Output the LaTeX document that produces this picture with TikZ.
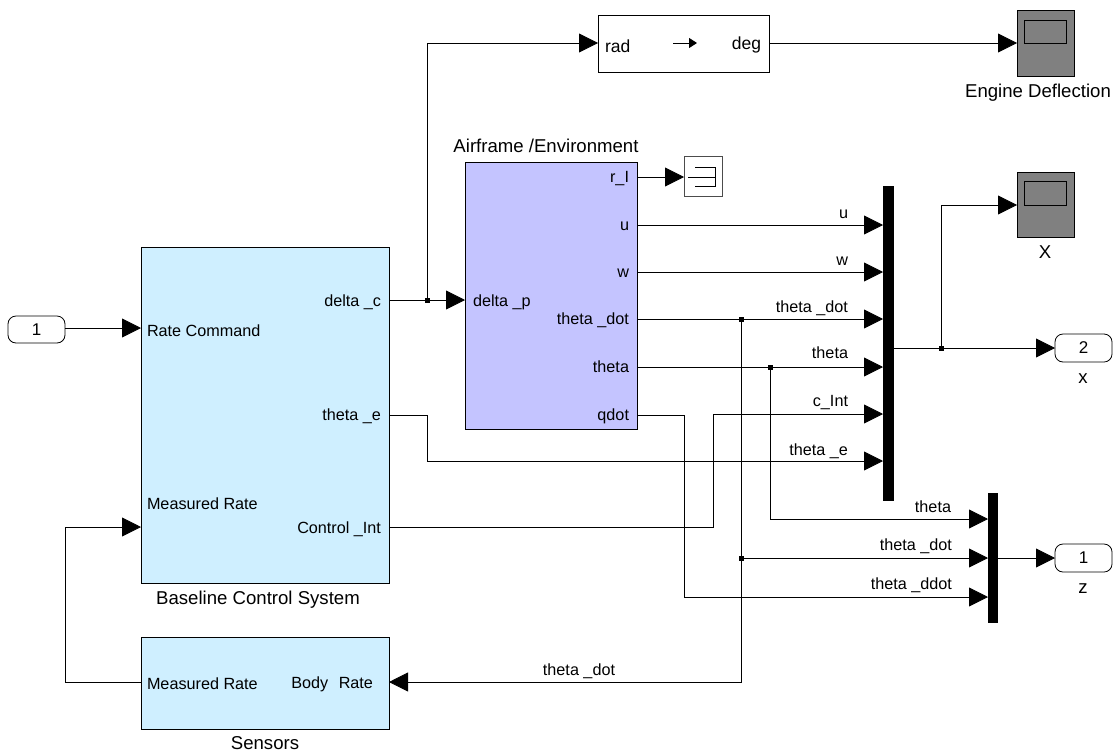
\documentclass[tikz,border=0pt]{standalone}
\usepackage{fontspec}
\setmainfont{Liberation Sans}
\usetikzlibrary{arrows.meta}
\definecolor{skyblk}{HTML}{CFEFFF}
\definecolor{lavblk}{HTML}{C4C4FF}
\definecolor{scopegray}{HTML}{808080}
\tikzset{
  x=1pt,y=-1pt,
  blk/.style={draw=black,line width=0.8pt,inner sep=0pt,outer sep=0pt,anchor=north west},
  mux/.style={fill=black,inner sep=0pt,outer sep=0pt,anchor=north west},
  port/.style={draw=black,line width=0.8pt,rounded corners=8pt,inner sep=0pt,outer sep=0pt,anchor=north west,font=\fontsize{17}{17}\selectfont},
  sig/.style={draw=black,line width=0.8pt,-{Triangle[length=19pt,width=19pt]}},
  wire/.style={draw=black,line width=0.8pt},
  jct/.style={fill=black,inner sep=0pt,outer sep=0pt,minimum size=5pt},
  lab/.style={inner sep=0pt,outer sep=0pt,font=\fontsize{16.2}{16.2}\selectfont},
  labL/.style={lab,anchor=base west},
  labR/.style={lab,anchor=base east},
  labC/.style={lab,anchor=base},
  nameC/.style={inner sep=0pt,outer sep=0pt,anchor=base,font=\fontsize{18.6}{18.6}\selectfont},
}
\begin{document}
\begin{tikzpicture}
\useasboundingbox (0,0) rectangle (1115,753);
% blocks
\node[blk,fill=skyblk,minimum width=248pt,minimum height=336pt] (base) at (141,247) {};
\node[blk,fill=skyblk,minimum width=248pt,minimum height=92pt] (sens) at (141,637) {};
\node[blk,fill=lavblk,minimum width=172pt,minimum height=267pt] (air) at (465,162) {};
\node[blk,fill=white,minimum width=171pt,minimum height=57pt] (conv) at (598,15) {};
\node[blk,fill=scopegray,minimum width=57pt,minimum height=66pt] (scopeE) at (1017,10) {};
\node[blk,fill=scopegray,minimum width=42pt,minimum height=23pt] (scopeEin) at (1024,20) {};
\node[blk,fill=scopegray,minimum width=57pt,minimum height=65pt] (scopeX) at (1017,172) {};
\node[blk,fill=scopegray,minimum width=42pt,minimum height=24pt] (scopeXin) at (1024,181) {};
\node[blk,draw=black!70,fill=white,minimum width=38pt,minimum height=40pt] (term) at (684,156) {};
\node[mux,minimum width=11pt,minimum height=315pt] (muxA) at (883,186) {};
\node[mux,minimum width=10pt,minimum height=130pt] (muxB) at (988,493) {};
\node[port,minimum width=57pt,minimum height=27pt] (inA) at (8,316) {1};
\node[port,minimum width=57pt,minimum height=28pt] (outX) at (1055,334) {2};
\node[port,minimum width=57pt,minimum height=28pt] (outZ) at (1055,544) {1};
% terminator glyph
\draw[wire] (695,167) -- (715,167) -- (715,186) -- (695,186);
\draw[wire] (688,177) -- (715,177);
% converter glyph
\draw[line width=1pt,-{Triangle[length=8pt,width=10pt]}] (673,43) -- (697,43);
% junctions
\coordinate (jDelta) at (427,300);
\coordinate (jDot) at (741,319);
\coordinate (jDotB) at (741,558);
\coordinate (jTheta) at (770,367);
\coordinate (jMux) at (941,348);
% connectors
\draw[sig] (inA.east |- 0,328) -- (base.west |- 0,328);
\draw[sig] (base.east |- 0,300) -- (air.west |- 0,300);
\draw[sig] (jDelta) |- (conv.west |- 0,43);
\draw[sig] (conv.east |- 0,43) -- (scopeE.west |- 0,43);
\draw[sig] (air.east |- 0,177) -- (term.west |- 0,177);
\draw[sig] (air.east |- 0,225) -- (muxA.west |- 0,225);
\draw[sig] (air.east |- 0,272) -- (muxA.west |- 0,272);
\draw[sig] (air.east |- 0,319) -- (muxA.west |- 0,319);
\draw[sig] (air.east |- 0,367) -- (muxA.west |- 0,367);
\draw[sig] (base.east |- 0,527) -- (713,527) -- (713,414) -- (muxA.west |- 0,414);
\draw[sig] (base.east |- 0,415) -- (427,415) -- (427,461) -- (muxA.west |- 0,461);
\draw[sig] (muxA.east |- 0,348) -- (outX.west |- 0,348);
\draw[sig] (jMux) |- (scopeX.west |- 0,205);
\draw[sig] (jTheta) |- (muxB.west |- 0,519);
\draw[sig] (jDotB) -- (muxB.west |- 0,558);
\draw[sig] (air.east |- 0,415) -- (684,415) -- (684,597) -- (muxB.west |- 0,597);
\draw[sig] (muxB.east |- 0,558) -- (outZ.west |- 0,558);
\draw[sig] (jDot) |- (sens.east |- 0,682);
\draw[sig] (sens.west |- 0,682) -- (65,682) -- (65,527) -- (base.west |- 0,527);
\node[jct] (nDelta) at (jDelta) {};
\node[jct] (nDot) at (jDot) {};
\node[jct] (nDotB) at (jDotB) {};
\node[jct] (nTheta) at (jTheta) {};
\node[jct] (nMux) at (jMux) {};
% block texts
\node[labL] (t1) at (147,336) {Rate Command};
\node[labL] (t2) at (147,509) {Measured Rate};
\node[labL] (t3) at (147,689) {Measured Rate};
\node[labR] (t4) at (381,306) {delta \_c};
\node[labR] (t5) at (381,420) {theta \_e};
\node[labR] (t6) at (381,533) {Control \_Int};
\node[labR] (t7) at (373,688) {Body\hspace{6pt} Rate};
\node[nameC] (t8) at (258,604) {Baseline Control System};
\node[nameC] (t9) at (265,749) {Sensors};
\node[labL] (t10) at (473,306) {delta \_p};
\node[nameC] (t11) at (546,152) {Airframe /Environment};
\node[labR] (t12) at (629,182) {r\_I};
\node[labR] (t13) at (629,230) {u};
\node[labR] (t14) at (629,277) {w};
\node[labR] (t15) at (629,324) {theta \_dot};
\node[labR] (t16) at (629,372) {theta};
\node[labR] (t17) at (629,420) {qdot};
\node[lab,anchor=base west,font=\fontsize{17.5}{17.5}\selectfont] (t18) at (605,52) {rad};
\node[lab,anchor=base east,font=\fontsize{17.5}{17.5}\selectfont] (t19) at (761,49) {deg};
\node[nameC] (t20) at (1038,97) {Engine Deflection};
\node[nameC] (t21) at (1045,258) {X};
\node[nameC] (t22) at (1083,383) {x};
\node[nameC] (t23) at (1083,593) {z};
% signal labels
\node[labR] (s1) at (848,218) {u};
\node[labR] (s2) at (848,265) {w};
\node[labR] (s3) at (848,312) {theta \_dot};
\node[labR] (s4) at (848,358) {theta};
\node[labR] (s5) at (848,406) {c\_Int};
\node[labR] (s6) at (848,455) {theta \_e};
\node[labR] (s7) at (951,512) {theta};
\node[labR] (s8) at (952,550) {theta \_dot};
\node[labR] (s9) at (952,589) {theta \_ddot};
\node[labC] (s10) at (579,675) {theta \_dot};
\end{tikzpicture}
\end{document}
